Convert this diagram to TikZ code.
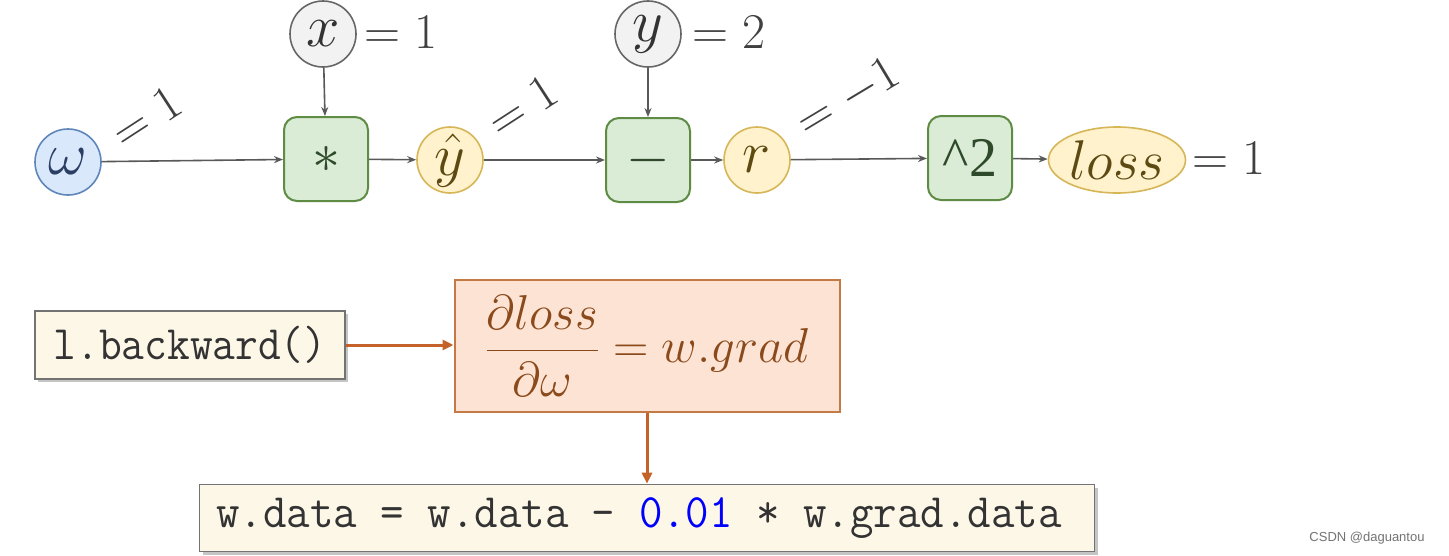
\RequirePackage{fix-cm}
\documentclass[tikz,border=0pt]{standalone}
\usepackage{fontspec}
\usepackage{amsmath}
\usetikzlibrary{arrows.meta,shapes.geometric,shadows}
\newfontfamily\wmfont{Liberation Sans}
\newfontfamily\opfont{Liberation Serif}
\definecolor{bluefill}{HTML}{DAE8FC}
\definecolor{bluedraw}{HTML}{5E86BA}
\definecolor{greyfill}{HTML}{F2F2F2}
\definecolor{greydraw}{HTML}{666666}
\definecolor{greenfill}{HTML}{DAEBD6}
\definecolor{greendraw}{HTML}{5E8C45}
\definecolor{yelfill}{HTML}{FFF2CC}
\definecolor{yeldraw}{HTML}{D6B656}
\definecolor{creamfill}{HTML}{FDF7E8}
\definecolor{salmonfill}{HTML}{FCE3D3}
\definecolor{salmondraw}{HTML}{C47A45}
\definecolor{orangearrow}{HTML}{C4622A}
\definecolor{browntext}{HTML}{8A4A1C}
\definecolor{olivetext}{HTML}{5C4A12}
\definecolor{darkgreentext}{HTML}{2F4A2A}
\definecolor{navytext}{HTML}{2A3F63}
\begin{document}
\begin{tikzpicture}[x=1pt,y=-1pt,
  circ/.style={circle,minimum size=66pt,inner sep=0pt,line width=1.6pt,font=\fontsize{60}{64}\selectfont},
  bluec/.style={circ,fill=bluefill,draw=bluedraw,text=navytext},
  greyc/.style={circ,fill=greyfill,draw=greydraw,text=black!80},
  yelc/.style={circ,fill=yelfill,draw=yeldraw,text=olivetext},
  yele/.style={ellipse,minimum width=137pt,minimum height=66pt,inner sep=0pt,line width=1.6pt,fill=yelfill,draw=yeldraw,text=olivetext,font=\fontsize{56}{60}\selectfont},
  opbox/.style={rectangle,rounded corners=13pt,minimum width=84pt,minimum height=84pt,inner sep=0pt,line width=2pt,fill=greenfill,draw=greendraw,text=darkgreentext,font=\fontsize{56}{60}\selectfont},
  lbl/.style={inner sep=0pt,text=black!75,font=\fontsize{50}{54}\selectfont},
  conn/.style={-{Stealth[length=9pt,width=7pt]},line width=1.6pt,draw=black!65},
  oarrow/.style={-{Triangle[length=11pt,width=10pt]},line width=3pt,draw=orangearrow},
  codebox/.style={rectangle,inner sep=0pt,line width=1.6pt,fill=creamfill,draw=black!55,
    drop shadow={shadow xshift=3pt,shadow yshift=-3pt,opacity=0.45},font=\ttfamily\fontsize{48}{52}\selectfont,text=black!80},
  fbox/.style={rectangle,inner sep=0pt,line width=2pt,fill=salmonfill,draw=salmondraw,text=browntext,font=\fontsize{49}{53}\selectfont}
]
\fill[white] (0,0) rectangle (1449,555);
\path[use as bounding box] (0,0) rectangle (1449,555);

% top graph
\node[bluec] (w) at (68,162) {$\omega$};
\node[greyc] (x) at (323,34) {$x$};
\node[opbox] (mul) at (326,159) {$*$};
\node[yelc] (yh) at (450,160) {$\hat{y}$};
\node[greyc] (y) at (648,34) {$y$};
\node[opbox] (sub) at (648,160) {$-$};
\node[yelc] (r) at (757,160) {$r$};
\node[opbox] (sq) at (970,158) {\opfont\^{}2};
\node[yele] (loss) at (1117,160) {$loss$};

\node[lbl,anchor=west] (xv) at (364,32) {$=1$};
\node[lbl,anchor=west] (yv) at (692,32) {$=2$};
\node[lbl,anchor=west] (lv) at (1192,158) {$=1$};
\node[lbl,rotate=33] (wv) at (146,117) {$=1$};
\node[lbl,rotate=33] (yhv) at (522,106) {$=1$};
\node[lbl,rotate=31] (rv) at (848,98) {$=-1$};

\draw[conn] (w) -- (mul);
\draw[conn] (x) -- (mul);
\draw[conn] (mul) -- (yh);
\draw[conn] (yh) -- (sub);
\draw[conn] (y) -- (sub);
\draw[conn] (sub) -- (r);
\draw[conn] (r) -- (sq);
\draw[conn] (sq) -- (loss);

% bottom part
\node[codebox,minimum width=310pt,minimum height=68pt] (bw) at (190,345)
  {\scalebox{0.92}[1]{l.backward()}};
\node[fbox,minimum width=385pt,minimum height=132pt] (grad) at (647,346)
  {$\displaystyle\frac{\partial loss}{\partial\omega}=w.grad$};
\node[codebox,minimum width=895pt,minimum height=67pt] (upd) at (647,518)
  {\hspace*{-16pt}\scalebox{0.95}[1]{w.data = w.data - {\color{blue}0.01} * w.grad.data}};

\draw[oarrow] (bw.east) -- (grad.west |- bw.east);
\draw[oarrow] (grad) -- (upd);

\node[font=\wmfont\fontsize{13}{15}\selectfont,text=black!55] (wm) at (1367,538) {CSDN @daguantou};
\end{tikzpicture}
\end{document}
